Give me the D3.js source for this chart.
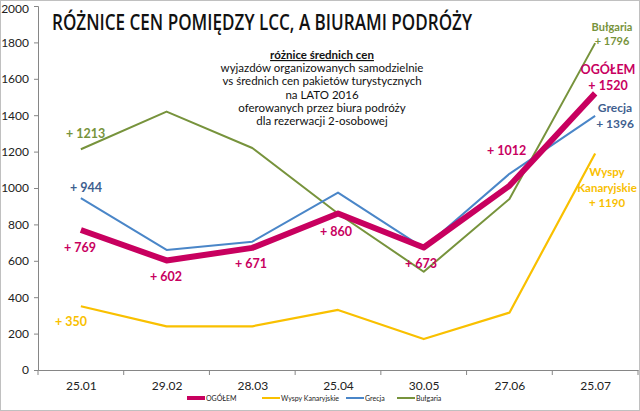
<!DOCTYPE html>
<html>
<head>
<meta charset="utf-8">
<script src="https://cdn.jsdelivr.net/npm/d3@7"></script>
<style>
  body { margin: 0; background: #fff; }
  svg { display: block; font-family: Lato, "Open Sans", sans-serif; }
</style>
</head>
<body>
<div id="chart"></div>
<script>
// Chart data
const dates = ["25.01", "29.02", "28.03", "25.04", "30.05", "27.06", "25.07"];
const ogolem = [769, 602, 671, 860, 673, 1012, 1520];
const wyspy = [350, 240, 240, 330, 170, 315, 1190];
const grecja = [944, 660, 705, 975, 670, 1078, 1396];
const bulgaria = [1213, 1420, 1220, 860, 540, 940, 1796];
const yTicks = [0, 200, 400, 600, 800, 1000, 1200, 1400, 1600, 1800, 2000];

const series = [
  { name: "OGÓŁEM", values: ogolem, color: "#c8005f", width: 6 },
  { name: "Wyspy Kanaryjskie", values: wyspy, color: "#f9c000", width: 2.2 },
  { name: "Grecja", values: grecja, color: "#4a86c8", width: 2 },
  { name: "Bułgaria", values: bulgaria, color: "#77933c", width: 2 }
];

const width = 640, height = 411;
const plot = { left: 38, right: 638, top: 6, bottom: 370 };

const svg = d3.select("#chart").append("svg")
  .attr("width", width)
  .attr("height", height);

// outer frame
svg.append("rect")
  .attr("x", 0.5).attr("y", 0.5)
  .attr("width", width - 1).attr("height", height - 1)
  .attr("fill", "#fff").attr("stroke", "#c0c0c0");

const x = d3.scalePoint().domain(dates).range([plot.left, plot.right]).padding(0.5);
const xBand = d3.scaleBand().domain(dates).range([plot.left, plot.right]);
const y = d3.scaleLinear().domain([0, 2000]).range([plot.bottom, plot.top]);

// y axis
const yAxis = svg.append("g")
  .attr("transform", `translate(${plot.left},0)`)
  .call(d3.axisLeft(y).tickValues(yTicks).tickFormat(d3.format("d")).tickSize(4).tickPadding(5));
yAxis.select(".domain").attr("stroke", "#868686");
yAxis.selectAll(".tick line").attr("stroke", "#868686");
yAxis.selectAll("text").attr("font-size", 12).attr("fill", "#222").attr("font-family", "Lato");
yAxis.selectAll(".tick").filter(d => d === 2000).select("text").attr("dy", "0.5em");

// x axis
const xAxis = svg.append("g")
  .attr("transform", `translate(0,${plot.bottom})`)
  .call(d3.axisBottom(x).tickSize(0).tickPadding(11));
xAxis.select(".domain").attr("stroke", "#868686");
xAxis.selectAll("text").attr("font-size", 12).attr("fill", "#222").attr("font-family", "Lato");
// category boundary ticks
xAxis.selectAll(".sep")
  .data(dates.concat(["end"]))
  .enter().append("line")
  .attr("x1", (d, i) => i < dates.length ? xBand(d) : plot.right)
  .attr("x2", (d, i) => i < dates.length ? xBand(d) : plot.right)
  .attr("y1", 0).attr("y2", 5)
  .attr("stroke", "#868686");

// title
svg.append("text")
  .attr("x", 262).attr("y", 30)
  .attr("text-anchor", "middle")
  .attr("font-family", "'Open Sans', Lato, sans-serif")
  .attr("font-size", 22)
  .attr("font-weight", 600)
  .attr("textLength", 420)
  .attr("lengthAdjust", "spacingAndGlyphs")
  .attr("fill", "#111")
  .text("RÓŻNICE CEN POMIĘDZY LCC, A BIURAMI PODRÓŻY");

// lines (draw order: thin ones first, OGÓŁEM on top)
const line = d3.line().x((d, i) => x(dates[i])).y(d => y(d));
const drawOrder = [series[1], series[3], series[2], series[0]];
svg.append("g").selectAll("path")
  .data(drawOrder)
  .enter().append("path")
  .attr("d", d => line(d.values))
  .attr("fill", "none")
  .attr("stroke", d => d.color)
  .attr("stroke-width", d => d.width)
  .attr("stroke-linejoin", "round");

// subtitle block
const sub = svg.append("text")
  .attr("text-anchor", "middle")
  .attr("font-size", 11.5)
  .attr("fill", "#111");
sub.append("tspan").attr("x", 322).attr("y", 59)
  .attr("font-weight", "bold").attr("text-decoration", "underline")
  .text("różnice średnich cen");
["wyjazdów organizowanych samodzielnie",
 "vs średnich cen pakietów turystycznych",
 "na LATO 2016",
 "oferowanych przez biura podróży",
 "dla rezerwacji 2-osobowej"].forEach((t, i) => {
  sub.append("tspan").attr("x", 322).attr("y", 72 + i * 13.3).text(t);
});

// value labels
const labels = [
  { t: "+ 1213", x: 66, y: 138, c: "#77933c" },
  { t: "+ 944", x: 70, y: 192, c: "#3f5f8f" },
  { t: "+ 769", x: 64, y: 252, c: "#c8005f" },
  { t: "+ 602", x: 150, y: 281, c: "#c8005f" },
  { t: "+ 671", x: 235, y: 268, c: "#c8005f" },
  { t: "+ 860", x: 320, y: 236, c: "#c8005f" },
  { t: "+ 673", x: 405, y: 268, c: "#c8005f" },
  { t: "+ 1012", x: 487, y: 155, c: "#c8005f" },
  { t: "+ 350", x: 55, y: 326, c: "#f9c000" }
];
svg.append("g").selectAll("text")
  .data(labels)
  .enter().append("text")
  .attr("x", d => d.x).attr("y", d => d.y)
  .attr("font-size", 12.5).attr("font-weight", "bold")
  .attr("fill", d => d.c)
  .text(d => d.t);

// end labels
const endLabels = [
  { lines: ["Bułgaria", "+ 1796"], x: 612, y: 31, c: "#77933c", size: 11, gap: 14 },
  { lines: ["OGÓŁEM", "+ 1520"], x: 608, y: 74, c: "#c8005f", size: 12.5, gap: 15.5 },
  { lines: ["Grecja", "+ 1396"], x: 615, y: 112, c: "#3f5f8f", size: 12, gap: 15.5 },
  { lines: ["Wyspy", "Kanaryjskie", "+ 1190"], x: 607, y: 176, c: "#f9c000", size: 11.5, gap: 15.5 }
];
endLabels.forEach(l => {
  const t = svg.append("text")
    .attr("text-anchor", "middle")
    .attr("font-size", l.size)
    .attr("font-weight", "bold")
    .attr("fill", l.c);
  l.lines.forEach((s, i) => {
    t.append("tspan").attr("x", l.x).attr("y", l.y + i * l.gap).text(s);
  });
});

// legend
const legendItems = [
  { s: series[0], x: 187 },
  { s: series[1], x: 262 },
  { s: series[2], x: 346 },
  { s: series[3], x: 397 }
];
const lg = svg.append("g").attr("transform", "translate(0,398)");
legendItems.forEach(it => {
  lg.append("line")
    .attr("x1", it.x).attr("x2", it.x + 18)
    .attr("y1", 0).attr("y2", 0)
    .attr("stroke", it.s.color)
    .attr("stroke-width", it.s === series[0] ? 4 : 2);
  lg.append("text")
    .attr("x", it.x + 19).attr("y", 2.5)
    .attr("font-size", 7)
    .attr("fill", "#222")
    .text(it.s.name);
});
</script>
</body>
</html>
